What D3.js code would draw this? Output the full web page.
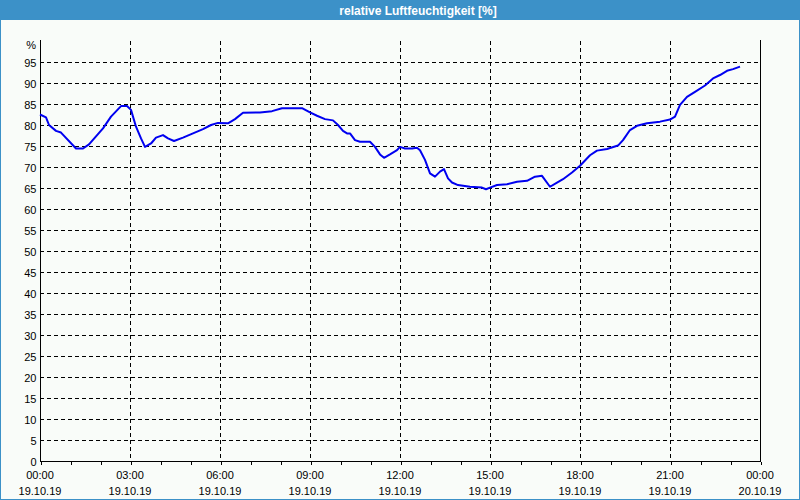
<!DOCTYPE html>
<html>
<head>
<meta charset="utf-8">
<script src="https://cdn.jsdelivr.net/npm/d3@7"></script>
<style>
html,body{margin:0;padding:0;background:#fff;}
svg{display:block;}
text{font-family:"Liberation Sans",Arial,sans-serif;}
</style>
</head>
<body>
<svg id="chart" width="800" height="500"></svg>
<script>
// ---- data ----
const title = "relative Luftfeuchtigkeit [%]";
const timeMinutes = [0,12,18,32,42,72,86,98,126,142,162,174,182,192,202,210,222,232,246,256,268,286,306,326,342,356,376,390,406,440,464,484,524,540,554,570,586,596,606,614,620,630,640,660,670,680,688,700,714,720,730,744,754,760,770,780,790,800,808,816,824,836,860,884,892,900,914,934,954,974,990,1004,1020,1034,1046,1064,1080,1100,1114,1134,1156,1166,1180,1194,1214,1240,1260,1270,1280,1294,1310,1330,1346,1360,1374,1386,1400];
const humidity = [82.5,81.8,80.0,78.6,78.2,74.4,74.4,75.4,79.2,82.0,84.5,84.5,83.6,79.6,76.8,74.8,75.6,77.0,77.6,76.8,76.2,77.0,78.0,79.0,80.0,80.5,80.4,81.4,82.9,83.0,83.3,84.0,84.0,83.0,82.2,81.4,81.1,80.0,78.6,78.0,78.0,76.4,76.0,76.0,74.8,73.0,72.2,73.0,74.0,74.8,74.4,74.4,74.6,74.0,71.7,68.5,67.7,68.9,69.5,67.3,66.3,65.7,65.3,65.1,64.7,65.1,65.7,65.9,66.5,66.7,67.7,67.9,65.3,66.3,67.1,68.7,70.3,72.8,73.9,74.3,75.1,76.4,78.8,79.8,80.4,80.8,81.3,82.0,84.8,86.7,87.9,89.4,91.1,91.9,92.9,93.3,93.9];
const yTicks = [0,5,10,15,20,25,30,35,40,45,50,55,60,65,70,75,80,85,90,95];
const yUnitLabel = "%";
const xMajorMinutes = [0,180,360,540,720,900,1080,1260,1440];
const xTimeLabels = ["00:00","03:00","06:00","09:00","12:00","15:00","18:00","21:00","00:00"];
const xDateLabels = ["19.10.19","19.10.19","19.10.19","19.10.19","19.10.19","19.10.19","19.10.19","19.10.19","20.10.19"];
const xMinorMinutes = d3.range(0, 1441, 60);

// ---- layout ----
const W = 800, H = 500;
const pLeft = 40, pRight = 760, pTop = 41, pBottom = 461;
const barColor = "#3c91c8";
const svg = d3.select("#chart");

svg.append("rect").attr("x",0).attr("y",0).attr("width",W).attr("height",H).attr("fill","#f9fcf9");
svg.append("rect").attr("x",0.5).attr("y",0.5).attr("width",W-1).attr("height",H-1)
  .attr("fill","none").attr("stroke",barColor).attr("stroke-width",1);
svg.append("rect").attr("x",0).attr("y",0).attr("width",W).attr("height",20).attr("fill",barColor);
svg.append("text").attr("x",418).attr("y",15).attr("text-anchor","middle")
  .attr("fill","#fff").attr("font-weight","bold").attr("font-size","12px").text(title);

const x = d3.scaleLinear().domain([0,1440]).range([pLeft,pRight]);
const y = d3.scaleLinear().domain([0,100]).range([pBottom,pTop]);

// grid
const grid = svg.append("g").attr("shape-rendering","crispEdges");
grid.selectAll("line.h").data(yTicks.filter(v=>v>0)).join("line")
  .attr("x1",pLeft).attr("x2",pRight)
  .attr("y1",d=>Math.round(y(d))+0.5).attr("y2",d=>Math.round(y(d))+0.5)
  .attr("stroke","#000").attr("stroke-dasharray","4,3");
grid.selectAll("line.v").data(xMajorMinutes.filter(v=>v>0 && v<1440)).join("line")
  .attr("x1",d=>Math.round(x(d))+0.5).attr("x2",d=>Math.round(x(d))+0.5)
  .attr("y1",pTop).attr("y2",pBottom)
  .attr("stroke","#000").attr("stroke-dasharray","4,3");

// right border
svg.append("line").attr("x1",pRight+0.5).attr("x2",pRight+0.5).attr("y1",pTop-1).attr("y2",pBottom)
  .attr("stroke","#000").attr("shape-rendering","crispEdges");

// y axis
const yAxis = svg.append("g").attr("transform",`translate(${pLeft+0.5},0.5)`)
  .call(d3.axisLeft(y).tickValues(yTicks).tickSize(0).tickPadding(4).tickFormat(d3.format("d")));
yAxis.select(".domain").attr("stroke","#000").attr("d",`M0,${pTop-1.5}V${pBottom}`).attr("shape-rendering","crispEdges");
yAxis.selectAll("text").attr("font-size","11px").attr("fill","#000")
  .attr("font-family","'Liberation Sans',Arial,sans-serif");
svg.append("text").attr("x",36).attr("y",y(100)+8).attr("text-anchor","end")
  .attr("font-size","11px").attr("fill","#000").text(yUnitLabel);

// x axis
const xAxis = svg.append("g").attr("transform",`translate(0.5,${pBottom+0.5})`)
  .call(d3.axisBottom(x).tickValues(xMinorMinutes).tickSize(3).tickFormat(""));
xAxis.select(".domain").attr("stroke","#000").attr("d",`M${pLeft},0H${pRight}`).attr("shape-rendering","crispEdges");
xAxis.selectAll(".tick line").attr("stroke","#000").attr("shape-rendering","crispEdges");

const lbl = svg.append("g").attr("font-size","11px").attr("fill","#000").attr("text-anchor","middle");
lbl.selectAll("text.t").data(xMajorMinutes).join("text")
  .attr("x",d=>x(d)).attr("y",479).text((d,i)=>xTimeLabels[i]);
lbl.selectAll("text.d").data(xMajorMinutes).join("text")
  .attr("x",d=>x(d)).attr("y",495).text((d,i)=>xDateLabels[i]);

// line
const pts = timeMinutes.map((t,i)=>[t,humidity[i]]);
svg.append("path").datum(pts)
  .attr("fill","none").attr("stroke","#0000f0").attr("stroke-width",2)
  .attr("stroke-linejoin","round")
  .attr("d",d3.line().x(d=>x(d[0])).y(d=>y(d[1])));
</script>
</body>
</html>
